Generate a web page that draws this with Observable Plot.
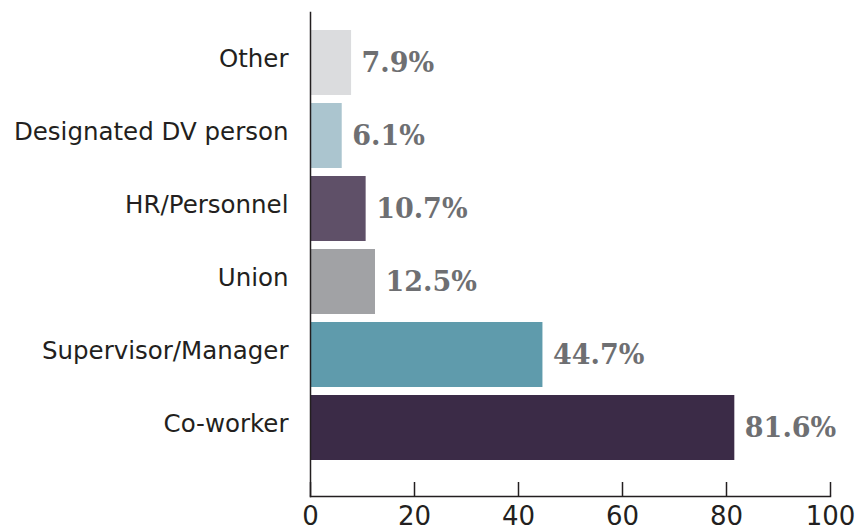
<!DOCTYPE html>
<html><head><meta charset="utf-8">
<script src="https://cdn.jsdelivr.net/npm/d3@7"></script>
<script src="https://cdn.jsdelivr.net/npm/@observablehq/plot@0.6"></script>
<style>body{margin:0;background:#fff} #chart svg{display:block}</style>
</head><body><div id="chart"></div>
<script>
const categories = ["Other", "Designated DV person", "HR/Personnel", "Union", "Supervisor/Manager", "Co-worker"];
const values = [7.9, 6.1, 10.7, 12.5, 44.7, 81.6];
const labels = ["7.9%", "6.1%", "10.7%", "12.5%", "44.7%", "81.6%"];
const xTicks = [0, 20, 40, 60, 80, 100];

const palette = ["#dbdcde", "#abc5cf", "#5f5068", "#a1a2a5", "#5f9bac", "#3b2b47"];
const data = categories.map((c, i) => ({category: c, value: values[i], label: labels[i]}));

const ink = "#231f20";
const chart = Plot.plot({
  width: 856, height: 531,
  marginTop: 12, marginBottom: 35, marginLeft: 310, marginRight: 26,
  style: {background: "#fff", fontFamily: "DejaVu Sans", overflow: "visible"},
  x: {domain: [0, 100], ticks: xTicks},
  y: {domain: categories, range: [28, 461], paddingInner: 0.11, paddingOuter: 0},
  color: {domain: categories, range: palette},
  marks: [
    Plot.barX(data, {x: "value", y: "category", fill: "category"}),
    Plot.text(data, {x: "value", y: "category", text: "label", textAnchor: "start", dx: 10,
      fill: "#6e6f72", fontFamily: "DejaVu Serif", fontWeight: "bold", fontSize: 27}),
    Plot.axisY({tickSize: 0, tickPadding: 22, fontSize: 24.5, fill: ink, label: null, dy: -4}),
    Plot.axisX({ticks: xTicks, tickSize: 14, dy: -14, tickFormat: () => "", stroke: ink, strokeWidth: 1.5, label: null}),
    Plot.axisX({ticks: xTicks, tickSize: 0, tickPadding: 10, fontSize: 26, fill: ink, label: null}),
    Plot.frame({anchor: "left", stroke: ink, strokeWidth: 1.5}),
    Plot.frame({anchor: "bottom", stroke: ink, strokeWidth: 1.5})
  ]
});
document.getElementById("chart").appendChild(chart);
</script>
</body></html>
